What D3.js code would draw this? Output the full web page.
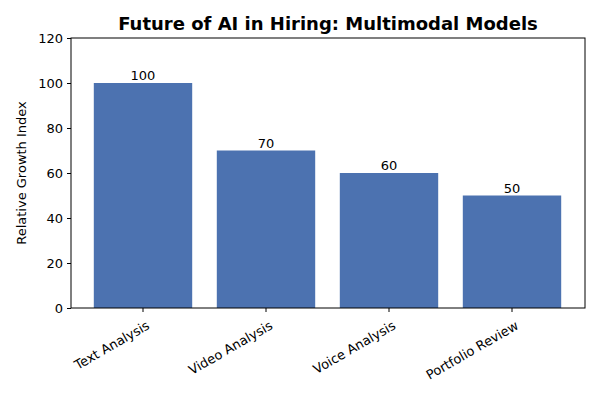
<!DOCTYPE html>
<html>
<head>
<meta charset="utf-8">
<script src="https://cdn.jsdelivr.net/npm/d3@7"></script>
<style>
  body { margin: 0; background: #fff; }
  text { font-family: "DejaVu Sans", sans-serif; }
</style>
</head>
<body>
<svg id="chart"></svg>
<script>
const categories = ["Text Analysis", "Video Analysis", "Voice Analysis", "Portfolio Review"];
const values = [100, 70, 60, 50];
const yTicks = [0, 20, 40, 60, 80, 100, 120];

const width = 600;
const height = 400;
const marginLeft = 71;
const marginRight = 15;
const marginTop = 38;
const marginBottom = 92;

const svg = d3.select("#chart")
  .attr("width", width)
  .attr("height", height);

const x = d3.scaleBand()
  .domain(categories)
  .range([81.5, 573.5])
  .paddingInner(0.2)
  .paddingOuter(0.1);

const y = d3.scaleLinear()
  .domain([0, 120])
  .range([height - marginBottom, marginTop]);

// bars
svg.append("g")
  .selectAll("rect")
  .data(values)
  .join("rect")
  .attr("x", (d, i) => x(categories[i]))
  .attr("y", d => y(d))
  .attr("width", x.bandwidth())
  .attr("height", d => y(0) - y(d))
  .attr("fill", "#4c72b0");

// value labels
svg.append("g")
  .selectAll("text")
  .data(values)
  .join("text")
  .attr("x", (d, i) => x(categories[i]) + x.bandwidth() / 2)
  .attr("y", d => y(d) - 3)
  .attr("text-anchor", "middle")
  .attr("font-size", 13)
  .text(d => d);

// frame
svg.append("rect")
  .attr("x", marginLeft)
  .attr("y", marginTop)
  .attr("width", width - marginLeft - marginRight)
  .attr("height", height - marginTop - marginBottom)
  .attr("fill", "none")
  .attr("stroke", "#000")
  .attr("stroke-width", 1);

// y axis
const yAxis = svg.append("g")
  .attr("transform", `translate(${marginLeft},0)`)
  .call(d3.axisLeft(y).tickValues(yTicks).tickSize(4).tickPadding(4));
yAxis.select(".domain").remove();
yAxis.selectAll("text").attr("font-size", 13).attr("fill", "#000");

// x axis
const xAxis = svg.append("g")
  .attr("transform", `translate(0,${height - marginBottom})`)
  .call(d3.axisBottom(x).tickSize(4).tickSizeOuter(0));
xAxis.select(".domain").remove();
xAxis.selectAll("text")
  .attr("font-size", 13)
  .attr("fill", "#000")
  .attr("text-anchor", "end")
  .attr("dy", null)
  .attr("transform", "translate(4,14) rotate(-30)");

// y label
svg.append("text")
  .attr("transform", `translate(26,${(marginTop + height - marginBottom) / 2}) rotate(-90)`)
  .attr("text-anchor", "middle")
  .attr("font-size", 13)
  .text("Relative Growth Index");

// title
svg.append("text")
  .attr("x", (marginLeft + width - marginRight) / 2)
  .attr("y", 30)
  .attr("text-anchor", "middle")
  .attr("font-size", 18)
  .attr("font-weight", "bold")
  .text("Future of AI in Hiring: Multimodal Models");
</script>
</body>
</html>
